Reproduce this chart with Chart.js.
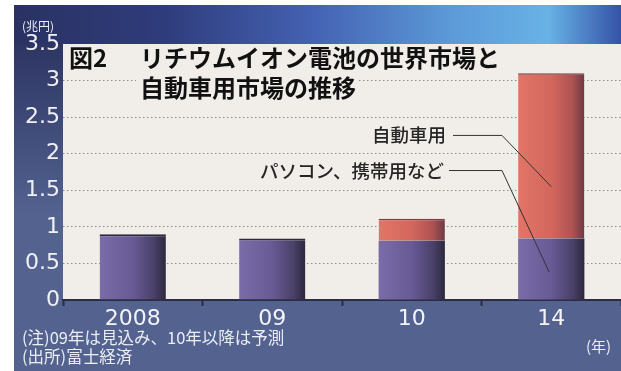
<!DOCTYPE html>
<html lang="ja">
<head>
<meta charset="utf-8">
<script src="https://cdn.jsdelivr.net/npm/chart.js@4"></script>
<style>
  html, body { margin: 0; padding: 0; background: #fff; }
  #wrap { width: 621px; height: 371px; }
</style>
</head>
<body>
<div id="wrap"><canvas id="grafico" width="621" height="371"></canvas></div>
<script>
// 年ごとの市場規模（兆円）
var anos = ['2008', '09', '10', '14'];
var pcTelefone = [0.9, 0.84, 0.81, 0.84];   // パソコン、携帯用など
var automovel = [null, null, 0.3, 2.26];     // 自動車用
var yTicks = [0, 0.5, 1, 1.5, 2, 2.5, 3, 3.5];

var PAINEL = '#f1eee9';
var FUNDO = '#53628f';
var CJK = '"Noto Sans CJK JP", "Noto Sans", sans-serif';

// 棒の左右の陰影
function Sombra(ctx, cores) {
    var chart = ctx.chart;
    if (!chart.chartArea || ctx.type !== 'data') return cores[1];
    var sx = chart.scales.x;
    var cx = sx.getPixelForValue(ctx.dataIndex);
    var meia = sx.width / anos.length * 0.475 / 2;
    var g = chart.ctx.createLinearGradient(cx - meia, 0, cx + meia, 0);
    g.addColorStop(0, cores[0]);
    g.addColorStop(0.5, cores[1]);
    g.addColorStop(0.82, cores[2]);
    g.addColorStop(1, cores[3]);
    return g;
}

var fundoPlugin = {
    id: 'fundo',
    beforeDraw: function (chart) {
        var c = chart.ctx, a = chart.chartArea;
        c.save();
        c.fillStyle = '#fff';
        c.fillRect(0, 0, chart.width, chart.height);
        c.fillStyle = FUNDO;
        c.fillRect(14, 5, chart.width - 14, chart.height - 5);
        // 上部の写真部分
        var g = c.createLinearGradient(14, 0, chart.width, 0);
        g.addColorStop(0, '#2a3262');
        g.addColorStop(0.25, '#2f3c7c');
        g.addColorStop(0.5, '#4563b4');
        g.addColorStop(0.72, '#5c9ad8');
        g.addColorStop(0.88, '#68b2e6');
        g.addColorStop(1, '#3552a6');
        c.fillStyle = g;
        c.fillRect(14, 5, chart.width - 14, a.top - 5);
        // 左側の帯
        var g2 = c.createLinearGradient(0, a.top, 0, a.top + 170);
        g2.addColorStop(0, '#2d3563');
        g2.addColorStop(1, FUNDO);
        c.fillStyle = g2;
        c.fillRect(14, a.top, a.left - 14, 170);
        c.fillStyle = PAINEL;
        c.fillRect(a.left, a.top, a.right - a.left, a.bottom - a.top);
        c.restore();
    }
};

var textosPlugin = {
    id: 'textos',
    beforeDatasetsDraw: function (chart) {
        var c = chart.ctx;
        c.save();
        c.font = 'bold 24px ' + CJK;
        c.textBaseline = 'middle';
        var l1 = 'リチウムイオン電池の世界市場と';
        var l2 = '自動車用市場の推移';
        c.fillStyle = PAINEL;
        c.fillRect(136, 46, c.measureText(l1).width + 6, 28);
        c.fillRect(136, 72, c.measureText(l2).width + 6, 32);
        c.fillStyle = '#111';
        c.fillText('図2', 69, 58);
        c.fillText(l1, 140, 58);
        c.fillText(l2, 140, 88);
        c.restore();
    },
    afterDatasetsDraw: function (chart) {
        var c = chart.ctx, sx = chart.scales.x, sy = chart.scales.y;
        var bx = sx.getPixelForValue(3);
        c.save();
        c.font = '500 18.5px ' + CJK;
        c.fillStyle = '#262626';
        c.textAlign = 'right';
        c.textBaseline = 'middle';
        var y1 = sy.getPixelForValue(2.25), y2 = sy.getPixelForValue(1.77);
        c.fillText('自動車用', 446, y1);
        c.fillText('パソコン、携帯用など', 444, y2);
        c.strokeStyle = '#333';
        c.lineWidth = 1;
        c.beginPath();
        c.moveTo(453, y1); c.lineTo(502, y1);
        c.lineTo(bx, sy.getPixelForValue(1.55));
        c.moveTo(449, y2); c.lineTo(502, y2);
        c.lineTo(bx - 2, sy.getPixelForValue(0.38));
        c.stroke();

        // 単位と注記
        c.fillStyle = '#eceef5';
        c.textAlign = 'left';
        c.font = '12px ' + CJK;
        c.fillText('(兆円)', 22, 26);
        c.font = '16.5px ' + CJK;
        c.fillText('(注)09年は見込み、10年以降は予測', 22, 338);
        c.fillText('(出所)富士経済', 22, 357);
        c.font = '15px ' + CJK;
        c.fillText('(年)', 586, 346);
        c.restore();
    }
};

var ctx = document.getElementById('grafico').getContext('2d');
var grafico = new Chart(ctx, {
    type: 'bar',
    data: {
        labels: anos,
        datasets: [
            {
                label: 'パソコン、携帯用など',
                data: pcTelefone,
                backgroundColor: function (c) { return Sombra(c, ['#7a6ca8', '#675a95', '#4a4168', '#2c283e']); },
                borderColor: '#2c283e',
                borderWidth: function (c) {
                    return automovel[c.dataIndex] ? 0 : { top: 2, left: 0, right: 0, bottom: 0 };
                },
                borderSkipped: false,
                categoryPercentage: 0.95,
                barPercentage: 0.5
            },
            {
                label: '自動車用',
                data: automovel,
                backgroundColor: function (c) { return Sombra(c, ['#e27567', '#d3675d', '#ad5253', '#6e3a45']); },
                borderColor: '#7a3f45',
                borderWidth: { top: 1.5, left: 0, right: 0, bottom: 0 },
                borderSkipped: false,
                categoryPercentage: 0.95,
                barPercentage: 0.5
            }
        ]
    },
    options: {
        responsive: false,
        animation: false,
        layout: { padding: { top: 44, left: 0, right: 0, bottom: 0 } },
        plugins: {
            legend: { display: false },
            title: { display: false },
            tooltip: { enabled: false }
        },
        scales: {
            x: {
                stacked: true,
                afterFit: function (s) { s.height = 71; },
                grid: {
                    display: true,
                    offset: true,
                    drawOnChartArea: false,
                    drawTicks: true,
                    tickLength: 6,
                    tickWidth: 2,
                    tickColor: '#2b2d45'
                },
                border: { display: true, color: '#2b2d45', width: 2 },
                ticks: {
                    color: '#f4f4f8',
                    padding: 0,
                    font: { family: '"DejaVu Sans", sans-serif', size: 22 }
                }
            },
            y: {
                stacked: true,
                min: 0,
                max: 3.5,
                afterFit: function (s) { s.width = 63; },
                afterBuildTicks: function (s) {
                    s.ticks = yTicks.map(function (v) { return { value: v }; });
                },
                grid: {
                    drawTicks: false,
                    lineWidth: 1,
                    color: function (c) {
                        var v = c.tick && c.tick.value;
                        return (v > 0 && v < 3.5) ? '#8f8d8a' : 'rgba(0,0,0,0)';
                    }
                },
                border: { display: false, dash: [1.5, 2.5] },
                ticks: {
                    color: '#f0f1f6',
                    padding: 3,
                    font: { family: '"DejaVu Sans", sans-serif', size: 22 },
                    callback: function (v) { return String(v); }
                }
            }
        }
    },
    plugins: [fundoPlugin, textosPlugin]
});
</script>
</body>
</html>
